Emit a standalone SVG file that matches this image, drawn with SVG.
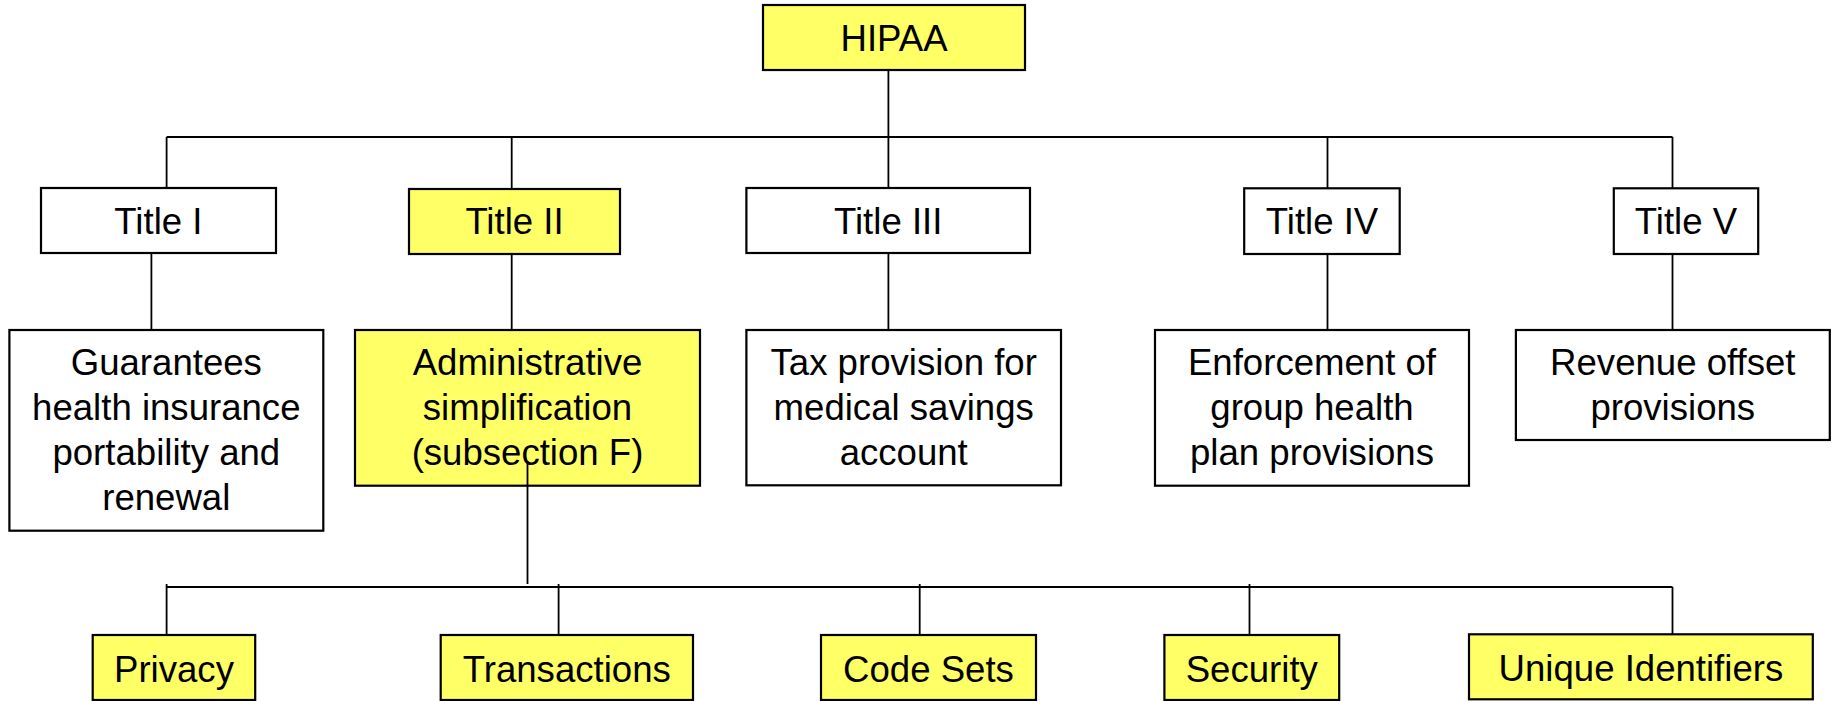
<svg xmlns="http://www.w3.org/2000/svg" width="1835" height="701" viewBox="0 0 1835 701">
<style>
.box{stroke:#000;stroke-width:2.2;fill:#fff}
.y{fill:#ffff66}
.t{font-family:"Liberation Sans",Arial,sans-serif;font-size:36.6px;fill:#000;text-anchor:middle}
.c{stroke:#000;stroke-width:1.8;fill:none}
</style>
<rect width="1835" height="701" fill="#fff"/>
<g id="hipaa"><rect class="box y" x="763" y="5" width="262" height="65"/><text class="t" x="894" y="51">HIPAA</text></g>
<g id="title1"><rect class="box" x="41" y="188" width="235" height="65"/><text class="t" x="158.4" y="234">Title I</text></g>
<g id="title2"><rect class="box y" x="409" y="189" width="211" height="65"/><text class="t" x="514.5" y="234">Title II</text></g>
<g id="title3"><rect class="box" x="746.4" y="188" width="283.6" height="65"/><text class="t" x="888.2" y="234">Title III</text></g>
<g id="title4"><rect class="box" x="1244.2" y="188.3" width="155.5" height="65.7"/><text class="t" x="1322" y="234">Title IV</text></g>
<g id="title5"><rect class="box" x="1613.8" y="188.3" width="144.4" height="65.7"/><text class="t" x="1686" y="234">Title V</text></g>
<g id="guarantees"><rect class="box" x="9.4" y="330" width="313.9" height="200.7"/><text class="t" x="166.3"><tspan x="166.3" y="375">Guarantees</tspan><tspan x="166.3" y="420">health insurance</tspan><tspan x="166.3" y="465">portability and</tspan><tspan x="166.3" y="510">renewal</tspan></text></g>
<g id="admin"><rect class="box y" x="355" y="330" width="345" height="155.7"/><text class="t" x="527.5"><tspan x="527.5" y="375">Administrative</tspan><tspan x="527.5" y="420">simplification</tspan><tspan x="527.5" y="465">(subsection F)</tspan></text></g>
<g id="tax"><rect class="box" x="746.4" y="330" width="314.6" height="155.3"/><text class="t" x="903.7"><tspan x="903.7" y="375">Tax provision for</tspan><tspan x="903.7" y="420">medical savings</tspan><tspan x="903.7" y="465">account</tspan></text></g>
<g id="enforcement"><rect class="box" x="1155" y="330" width="314" height="155.7"/><text class="t" x="1312"><tspan x="1312" y="375">Enforcement of</tspan><tspan x="1312" y="420">group health</tspan><tspan x="1312" y="465">plan provisions</tspan></text></g>
<g id="revenue"><rect class="box" x="1515.9" y="330" width="313.9" height="110"/><text class="t" x="1672.8"><tspan x="1672.8" y="375">Revenue offset</tspan><tspan x="1672.8" y="420">provisions</tspan></text></g>
<g id="privacy"><rect class="box y" x="92.7" y="635" width="162.5" height="65"/><text class="t" x="174" y="682">Privacy</text></g>
<g id="transactions"><rect class="box y" x="440.7" y="635" width="252.3" height="65"/><text class="t" x="566.8" y="682">Transactions</text></g>
<g id="codesets"><rect class="box y" x="821" y="635" width="215" height="65"/><text class="t" x="928.5" y="682">Code Sets</text></g>
<g id="security"><rect class="box y" x="1164.4" y="635" width="174.8" height="65"/><text class="t" x="1251.8" y="682">Security</text></g>
<g id="unique"><rect class="box y" x="1469" y="634.3" width="343.8" height="65"/><text class="t" x="1640.9" y="681">Unique Identifiers</text></g>
<g id="connectors">
<path class="c" d="M888.4 70V188M166.6 137H1672.5M166.6 137V188M511.7 137V189M1327.5 137V188M1672.5 137V188"/>
<path class="c" d="M151.4 253V330M511.7 254V330M888.4 253V330M1327.5 254V330M1672.5 254V330"/>
<path class="c" d="M527.5 463V584M166.6 587H1672.5M166.6 584V635M558.6 584V635M919.7 584V635M1249.5 584V635M1672.5 587V634.3"/>
</g>
</svg>
